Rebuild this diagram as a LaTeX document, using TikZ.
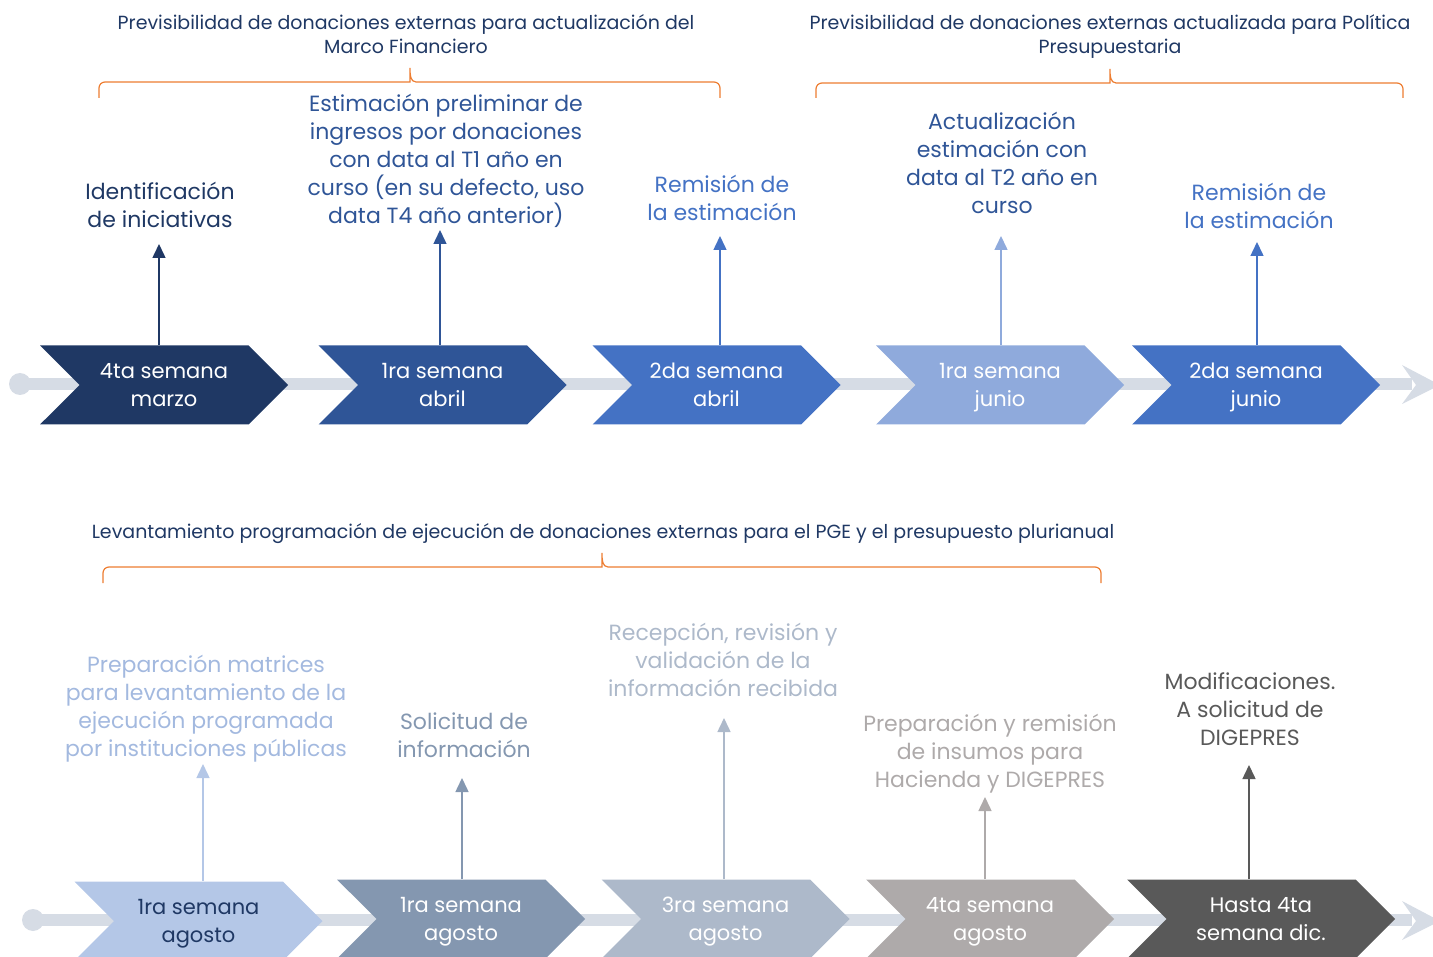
\documentclass[tikz,border=0pt]{standalone}
\usepackage{fontspec}
\setmainfont{Poppins}
\usepackage{tikz}
\usetikzlibrary{shapes,arrows.meta,positioning,calc}
\usepackage{xcolor}
\definecolor{navy}{HTML}{1F3864}
\definecolor{blueA}{HTML}{2F5597}
\definecolor{blueB}{HTML}{4472C4}
\definecolor{blueC}{HTML}{8FAADC}
\definecolor{blueD}{HTML}{B4C7E7}
\definecolor{blueDt}{HTML}{A3B9DF}
\definecolor{slateA}{HTML}{8497B0}
\definecolor{slateB}{HTML}{ADB9CA}
\definecolor{greyA}{HTML}{AEAAAA}
\definecolor{greyB}{HTML}{595959}
\definecolor{rail}{HTML}{D6DCE5}
\definecolor{brace}{HTML}{ED7D31}

\begin{document}
\begin{tikzpicture}[x=1pt,y=-1pt,>={Triangle[length=14pt,width=13pt]},thick]
\tikzstyle{chev} = [signal, signal from=west, signal to=east, signal pointer angle=90, minimum width=248pt, minimum height=79pt, inner sep=0pt, text height=43pt, text depth=0pt, align=center, text=white, font=\fontsize{21}{28}\selectfont]
\tikzstyle{lab} = [align=center, inner sep=0pt, font=\fontsize{22}{28}\selectfont]
\tikzstyle{head} = [align=center, inner sep=0pt, text=navy, font=\fontsize{19}{24}\selectfont]
\tikzstyle{bracket} = [draw=brace, line width=1.2pt, rounded corners=6pt]
\tikzstyle{stem} = [->, line width=1.5pt]
\useasboundingbox (0,0) rectangle (1433,957);

% top timeline
\coordinate (s1) at (20,384);
\coordinate (e1) at (1412,384);
\draw[rail, line width=12pt] (s1) -- (e1);
\fill[rail] (s1) circle (11pt);
\fill[rail] (1402,365) -- (1440,385) -- (1402,404) -- (1416,385) -- cycle;

\node[chev, fill=navy]  (c1) at (164,385)    {4ta semana\\marzo};
\node[chev, fill=blueA] (c2) at (442.5,385)  {1ra semana\\abril};
\node[chev, fill=blueB] (c3) at (716.5,385)  {2da semana\\abril};
\node[chev, fill=blueC] (c4) at (1000,385)   {1ra semana\\junio};
\node[chev, fill=blueB] (c5) at (1256,385)   {2da semana\\junio};

\node[lab, text=navy]  (l1) at (160,205)  {Identificación\\de iniciativas};
\node[lab, text=blueA] (l2) at (446,161)  {Estimación preliminar de\\ingresos por donaciones\\con data al T1 año en\\curso (en su defecto, uso\\data T4 año anterior)};
\node[lab, text=blueB] (l3) at (722,198)  {Remisión de\\la estimación};
\node[lab, text=blueA] (l4) at (1002,163) {Actualización\\estimación con\\data al T2 año en\\curso};
\node[lab, text=blueB] (l5) at (1259,206) {Remisión de\\la estimación};

\coordinate (t1) at (159,244);
\coordinate (t2) at (440,230);
\coordinate (t3) at (720,236);
\coordinate (t4) at (1001,236);
\coordinate (t5) at (1257,242);
\draw[stem, navy]  (t1 |- c1.north) -- (t1);
\draw[stem, blueA] (t2 |- c2.north) -- (t2);
\draw[stem, blueB] (t3 |- c3.north) -- (t3);
\draw[stem, blueC] (t4 |- c4.north) -- (t4);
\draw[stem, blueB] (t5 |- c5.north) -- (t5);

% top braces
\coordinate (b1l) at (99,98);
\coordinate (b1r) at (720,98);
\coordinate (k1) at (410,68);
\coordinate (b2l) at (816,98);
\coordinate (b2r) at (1403,98);
\coordinate (k2) at (1110,69);
\draw[bracket] (b1l) -- ++(0,-16) -- ($(k1)+(-6,14)$) [sharp corners] to[out=0,in=-90] (k1)
  to[out=-90,in=180] ($(k1)+(6,14)$) [rounded corners=6pt] -- ($(b1r)+(0,-16)$) -- (b1r);
\draw[bracket] (b2l) -- ++(0,-15) -- ($(k2)+(-6,14)$) [sharp corners] to[out=0,in=-90] (k2)
  to[out=-90,in=180] ($(k2)+(6,14)$) [rounded corners=6pt] -- ($(b2r)+(0,-15)$) -- (b2r);
\node[head] (h1) at (406,34) {Previsibilidad de donaciones externas para actualización del\\Marco Financiero};
\node[head] (h2) at (1110,37) {Previsibilidad de donaciones externas actualizada para Política\\Presupuestaria};

% bottom brace
\coordinate (b3l) at (103,583);
\coordinate (b3r) at (1101,583);
\coordinate (k3) at (602,553);
\draw[bracket] (b3l) -- ++(0,-16) -- ($(k3)+(-6,14)$) [sharp corners] to[out=0,in=-90] (k3)
  to[out=-90,in=180] ($(k3)+(6,14)$) [rounded corners=6pt] -- ($(b3r)+(0,-16)$) -- (b3r);
\node[head] (h3) at (603,534) {Levantamiento programación de ejecución de donaciones externas para el PGE y el presupuesto plurianual};

% bottom timeline
\coordinate (s2) at (33,920);
\coordinate (e2) at (1412,920);
\draw[rail, line width=12pt] (s2) -- (e2);
\fill[rail] (s2) circle (11pt);
\fill[rail] (1402,901) -- (1440,921) -- (1402,940) -- (1416,921) -- cycle;

\node[chev, fill=blueD, text=navy] (d1) at (198.5,921) {1ra semana\\agosto};
\node[chev, fill=slateA] (d2) at (461,919)   {1ra semana\\agosto};
\node[chev, fill=slateB] (d3) at (725.5,919) {3ra semana\\agosto};
\node[chev, fill=greyA]  (d4) at (990,919)   {4ta semana\\agosto};
\node[chev, fill=greyB, minimum width=268pt] (d5) at (1261,919) {Hasta 4ta\\semana dic.};

\node[lab, text=blueDt] (m1) at (206,709)  {Preparación matrices\\para levantamiento de la\\ejecución programada\\por instituciones públicas};
\node[lab, text=slateA] (m2) at (464,735)  {Solicitud de\\información};
\node[lab, text=slateB] (m3) at (723,660)  {Recepción, revisión y\\validación de la\\información recibida};
\node[lab, text=greyA]  (m4) at (990,754)  {Preparación y remisión\\de insumos para\\Hacienda y DIGEPRES};
\node[lab, text=greyB]  (m5) at (1250,709) {Modificaciones.\\A solicitud de\\DIGEPRES};

\coordinate (u1) at (203,764);
\coordinate (u2) at (462,778);
\coordinate (u3) at (724,718);
\coordinate (u4) at (985,797);
\coordinate (u5) at (1249,765);
\draw[stem, blueD]  (u1 |- d1.north) -- (u1);
\draw[stem, slateA] (u2 |- d2.north) -- (u2);
\draw[stem, slateB] (u3 |- d3.north) -- (u3);
\draw[stem, greyA]  (u4 |- d4.north) -- (u4);
\draw[stem, greyB]  (u5 |- d5.north) -- (u5);
\end{tikzpicture}
\end{document}
